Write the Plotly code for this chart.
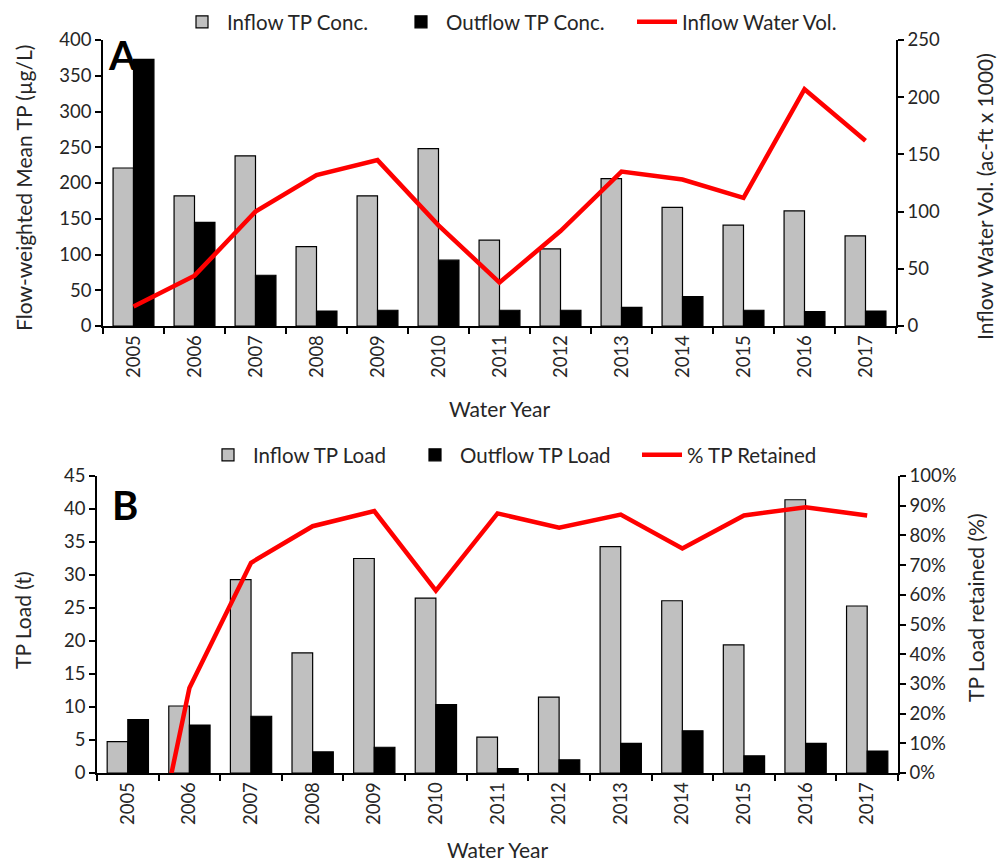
import plotly.graph_objects as go

# Water years shown on both panels
years = ["2005", "2006", "2007", "2008", "2009", "2010", "2011",
         "2012", "2013", "2014", "2015", "2016", "2017"]

# Panel A: flow-weighted mean TP (ug/L) and inflow volume (ac-ft x 1000)
inflow_conc = [221, 182, 238, 111, 182, 248, 120, 108, 206, 166, 141, 161, 126]
outflow_conc = [373, 145, 71, 21, 22, 92, 22, 22, 26, 41, 22, 20, 21]
inflow_vol = [17, 44, 100, 132, 145, 88, 38, 83, 135, 128, 112, 207, 162]

# Panel B: TP loads (t) and fraction of inflow load retained
inflow_load = [4.75, 10.15, 29.3, 18.2, 32.5, 26.5, 5.45, 11.5, 34.3, 26.1, 19.4, 41.4, 25.3]
outflow_load = [8.1, 7.27, 8.6, 3.2, 3.9, 10.35, 0.65, 2.0, 4.5, 6.4, 2.6, 4.5, 3.33]
tp_retained = [-0.70, 0.286, 0.708, 0.831, 0.882, 0.614, 0.874, 0.826, 0.87, 0.756, 0.867, 0.895, 0.867]

FONT = "Lato"
TXT = "#262626"
GRAY = "#C0C0C0"
RED = "#FF0000"

W, H = 1004, 863


def px_x(v):
    return v / W


def px_y(v):
    return 1 - v / H


fig = go.Figure()

# ---- Panel A ----
fig.add_trace(go.Bar(x=years, y=inflow_conc, name="Inflow TP Conc.",
                     marker=dict(color=GRAY, line=dict(color="black", width=1.2)),
                     xaxis="x", yaxis="y", legend="legend", offsetgroup="a1"))
fig.add_trace(go.Bar(x=years, y=outflow_conc, name="Outflow TP Conc.",
                     marker=dict(color="black", line=dict(color="black", width=1.2)),
                     xaxis="x", yaxis="y", legend="legend2", offsetgroup="a2"))
fig.add_trace(go.Scatter(x=years, y=inflow_vol, name="Inflow Water Vol.", mode="lines",
                         line=dict(color=RED, width=4.5),
                         xaxis="x", yaxis="y2", legend="legend3"))

# ---- Panel B ----
fig.add_trace(go.Bar(x=years, y=inflow_load, name="Inflow TP Load",
                     marker=dict(color=GRAY, line=dict(color="black", width=1.2)),
                     xaxis="x2", yaxis="y3", legend="legend4", offsetgroup="b1"))
fig.add_trace(go.Bar(x=years, y=outflow_load, name="Outflow TP Load",
                     marker=dict(color="black", line=dict(color="black", width=1.2)),
                     xaxis="x2", yaxis="y3", legend="legend5", offsetgroup="b2"))
fig.add_trace(go.Scatter(x=years, y=tp_retained, name="% TP Retained", mode="lines",
                         line=dict(color=RED, width=4.5),
                         xaxis="x2", yaxis="y4", legend="legend6"))

axis_common = dict(showline=True, linecolor="black", linewidth=1.5, showgrid=False,
                   zeroline=False, ticks="outside", ticklen=6, tickwidth=1.5,
                   tickcolor="black", automargin=False,
                   tickfont=dict(family=FONT, size=18.5, color=TXT))

xdomA = [px_x(103), px_x(896)]
xdomB = [px_x(97), px_x(898)]
ydomA = [px_y(326), px_y(40)]
ydomB = [px_y(773), px_y(476)]

legend_font = dict(family=FONT, size=20.5, color=TXT)


def legend_at(text_left, row_y):
    # one legend entry per box so each key sits where its label begins
    return dict(orientation="h", x=px_x(text_left - 51), xanchor="left",
                y=px_y(row_y), yanchor="middle", font=legend_font, itemwidth=40,
                bgcolor="rgba(0,0,0,0)")


fig.update_layout(
    width=W, height=H,
    margin=dict(l=0, r=0, t=0, b=0, autoexpand=False),
    paper_bgcolor="white", plot_bgcolor="white",
    font=dict(family=FONT, size=18, color=TXT),
    barmode="group", bargap=0.33, bargroupgap=0,
    showlegend=True,
    xaxis=dict(domain=xdomA, anchor="y", type="category", tickangle=-90,
               tickson="boundaries", **axis_common),
    yaxis=dict(domain=ydomA, anchor="x", range=[0, 400], dtick=50, **axis_common),
    yaxis2=dict(domain=ydomA, anchor="x", overlaying="y", side="right",
                range=[0, 250], dtick=50, **axis_common),
    xaxis2=dict(domain=xdomB, anchor="y3", type="category", tickangle=-90,
                tickson="boundaries", **axis_common),
    yaxis3=dict(domain=ydomB, anchor="x2", range=[0, 45], dtick=5, **axis_common),
    yaxis4=dict(domain=ydomB, anchor="x2", overlaying="y3", side="right",
                range=[0, 1], dtick=0.1, tickformat=".0%", **axis_common),
    legend=legend_at(228, 22),
    legend2=legend_at(447, 22),
    legend3=legend_at(683, 22),
    legend4=legend_at(254, 455),
    legend5=legend_at(461, 455),
    legend6=legend_at(688, 455),
)

title_font = dict(family=FONT, size=21, color=TXT)
annots = [
    # panel letters
    dict(text="<b>A</b>", x=px_x(106), y=px_y(55), xanchor="left", yanchor="middle",
         font=dict(family=FONT, size=40, color="black")),
    dict(text="<b>B</b>", x=px_x(110), y=px_y(505), xanchor="left", yanchor="middle",
         font=dict(family=FONT, size=40, color="black")),
    # axis titles, panel A
    dict(text="Flow-weighted Mean TP (µg/L)", x=px_x(24), y=px_y(188),
         textangle=-90, xanchor="center", yanchor="middle"),
    dict(text="Inflow Water Vol. (ac-ft x 1000)", x=px_x(984), y=px_y(197),
         textangle=-90, xanchor="center", yanchor="middle"),
    dict(text="Water Year", x=(xdomA[0] + xdomA[1]) / 2, y=px_y(408),
         xanchor="center", yanchor="middle"),
    # axis titles, panel B
    dict(text="TP Load (t)", x=px_x(22), y=px_y(620),
         textangle=-90, xanchor="center", yanchor="middle"),
    dict(text="TP Load retained (%)", x=px_x(975), y=px_y(608),
         textangle=-90, xanchor="center", yanchor="middle"),
    dict(text="Water Year", x=(xdomB[0] + xdomB[1]) / 2, y=px_y(849),
         xanchor="center", yanchor="middle"),
]
for a in annots:
    a.setdefault("font", title_font)
    fig.add_annotation(xref="paper", yref="paper", showarrow=False, **a)

fig.write_html("out.html")
